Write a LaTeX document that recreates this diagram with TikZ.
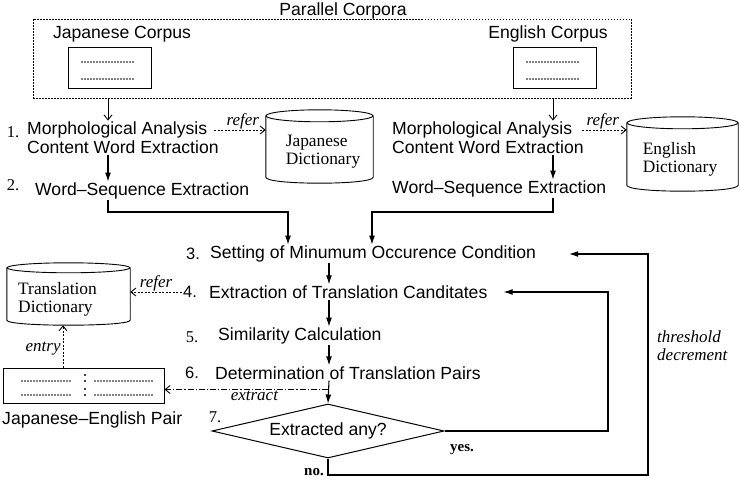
\documentclass[tikz,border=0pt]{standalone}
\usepackage{fontspec}
\setmainfont{Liberation Serif}
\newfontfamily\hv{Liberation Sans}
\usetikzlibrary{arrows.meta,shapes.geometric}
\tikzset{
  sans/.style={font=\hv\fontsize{17.6}{18}\selectfont, inner sep=1pt, align=left},
  serif/.style={font=\fontsize{17.4}{18}\selectfont, inner sep=1pt, align=left},
  lab/.style={font=\itshape\fontsize{17}{18}\selectfont, inner sep=1pt, align=left},
  num/.style={font=\fontsize{16.5}{17}\selectfont, inner sep=1pt},
  snum/.style={font=\hv\fontsize{16.5}{17}\selectfont, inner sep=1pt},
  ans/.style={font=\bfseries\fontsize{15}{16}\selectfont, inner sep=1pt},
  arr/.style={line width=1.1pt, -{Latex[length=9pt,width=6pt]}},
  oarr/.style={line width=0.9pt, -{Straight Barb[length=5pt,width=8pt]}},
  dsh/.style={oarr, dash pattern=on 2pt off 1.5pt},
  ddot/.style={oarr, dash pattern=on 6pt off 2pt on 1.2pt off 2pt},
  dotrow/.style={line width=1.7pt, line cap=round, dash pattern=on 0pt off 3pt},
}
\newcommand\drawcyl[3]{%
  \draw[line width=0.9pt] (#1.north) ++(0,#3) ellipse [x radius=#2, y radius=#3];
  \draw[line width=0.9pt] ([yshift=-#3pt]#1.north west) -- ([yshift=#3pt]#1.south west)
    .. controls +(0,{1.333*#3}) and +(0,{1.333*#3}) .. ([yshift=#3pt]#1.south east)
    -- ([yshift=-#3pt]#1.north east);
}
\begin{document}
\begin{tikzpicture}[x=1pt,y=-1pt]
\useasboundingbox (0,0) rectangle (740,484);

% guide coordinates
\coordinate (jx) at (108,0);
\coordinate (ex) at (553,0);
\coordinate (mx) at (329,0);
\coordinate (ax1) at (288,0);
\coordinate (ax2) at (372,0);
\coordinate (ax3) at (63,0);
\coordinate (hy) at (0,212);
\coordinate (ny) at (0,475);
\coordinate (lx1) at (608,0);
\coordinate (lx2) at (648,0);

% parallel corpora
\node[sans] (pc) at (343,11) {Parallel Corpora};
\node[draw, line width=0.8pt, dash pattern=on 1.5pt off 1.5pt, minimum width=598pt, minimum height=79pt, inner sep=0pt] (par) at (332,58.5) {};
\node[sans] (jc) at (122,34) {Japanese Corpus};
\node[sans] (ec) at (548,34) {English Corpus};
\node[draw, line width=0.9pt, minimum width=83pt, minimum height=41pt, inner sep=0pt] (jb) at (109.5,67.5) {};
\node[draw, line width=0.9pt, minimum width=83pt, minimum height=41pt, inner sep=0pt] (eb) at (554.5,67.5) {};
\draw[dotrow] (82,62) -- (133,62);
\draw[dotrow] (82,79) -- (133,79);
\draw[dotrow] (527,62) -- (579,62);
\draw[dotrow] (527,79) -- (579,79);

% step 1 and 2, left
\node[num] (n1) at (13,132) {1.};
\node[sans, anchor=west] (m1a) at (26,130) {Morphological Analysis};
\node[sans, anchor=west] (m1b) at (26,147) {Content Word Extraction};
\node[num] (n2) at (13,185) {2.};
\node[sans, anchor=west] (ws1) at (34,191) {Word–Sequence Extraction};

% step 1 and 2, right
\node[sans, anchor=west] (m2a) at (391,130) {Morphological Analysis};
\node[sans, anchor=west] (m2b) at (391,147) {Content Word Extraction};
\node[sans, anchor=west] (ws2) at (391,189) {Word–Sequence Extraction};

% dictionaries
\node[inner sep=0pt, minimum width=107pt, minimum height=73pt] (jd) at (319.5,146.5) {};
\drawcyl{jd}{53.5}{6}
\node[serif] (jdt) at (323,152) {Japanese\\Dictionary};
\node[inner sep=0pt, minimum width=111pt, minimum height=74pt] (ed) at (682.5,154) {};
\drawcyl{ed}{55.5}{6}
\node[serif] (edt) at (680,159) {English\\Dictionary};
\node[inner sep=0pt, minimum width=123pt, minimum height=62pt] (td) at (68.5,294) {};
\drawcyl{td}{61.5}{5}
\node[serif, anchor=west] (tdt) at (17,299) {Translation\\Dictionary};

% arrows top
\draw[oarr] (par.south -| jx) -- (m1a.north -| jx);
\draw[oarr] (par.south -| ex) -- (m2a.north -| ex);
\draw[arr] (m1b.south -| jx) -- (ws1.north -| jx);
\draw[arr] (m2b.south -| ex) -- (ws2.north -| ex);
\draw[dsh, shorten <=6pt] (m1a.east) -- node[lab, above, inner sep=0pt, pos=0.6] {refer} (m1a.east -| jd.west);
\draw[dsh, shorten <=9pt] (m2a.east) -- node[lab, above, inner sep=0pt, pos=0.55] {refer} (m2a.east -| ed.west);

% steps
\node[snum] (n3) at (193,254) {3.};
\node[sans, anchor=west] (s3) at (209,254) {Setting of Minumum Occurence Condition};
\node[snum] (n4) at (190,292) {4.};
\node[sans, anchor=west] (s4) at (208,292) {Extraction of Translation Canditates};
\node[num] (n5) at (192,337) {5.};
\node[sans, anchor=west] (s5) at (217,336) {Similarity Calculation};
\node[snum] (n6) at (192,373) {6.};
\node[sans, anchor=west] (s6) at (214,373) {Determination of Translation Pairs};
\node[draw, diamond, aspect=4.3, line width=1pt, minimum width=232pt, minimum height=54pt, inner sep=0pt, font=\hv\fontsize{17.6}{18}\selectfont] (d) at (328,431) {Extracted any?};
\node[num] (n7) at (215,417) {7.};

\draw[arr] (ws1.south -| jx) -- (jx |- hy) -| (s3.north -| ax1);
\draw[arr] (ws2.south -| ex) -- (ex |- hy) -| (s3.north -| ax2);
\draw[arr] (s3.south -| mx) -- (s4.north -| mx);
\draw[arr] (s4.south -| mx) -- (s5.north -| mx);
\draw[arr] (s5.south -| mx) -- (s6.north -| mx);
\draw[arr] (s6.south -| mx) -- (d.north);

% loops
\draw[arr] (d.east) -| (lx1 |- s4.east) -- ([xshift=15pt]s4.east);
\draw[arr] (d.south) -- (d.south |- ny) -| (lx2 |- s3.east) -- ([xshift=32pt]s3.east);
\node[ans] (yes) at (462,450) {yes.};
\node[ans] (no) at (314,472) {no.};
\node[lab, anchor=west] (thr) at (656,346) {threshold\\decrement};

% translation pairs
\node[draw, line width=0.9pt, minimum width=161pt, minimum height=35pt, inner sep=0pt] (je) at (83.5,385.5) {};
\draw[dotrow] (22,381) -- (72,381);
\draw[dotrow] (95,381) -- (153,381);
\draw[dotrow] (22,395) -- (72,395);
\draw[dotrow] (95,395) -- (153,395);
\fill (85,375) circle (1.2) (85,381) circle (1.2) (85,389) circle (1.2) (85,395) circle (1.2);
\node[sans, anchor=west] (jel) at (1,420) {Japanese–English Pair};

\draw[dsh] (n4.west) -- node[lab, above, inner sep=0pt] {refer} (n4.west -| td.east);
\draw[dsh] (je.north -| ax3) -- node[lab, left, inner sep=2pt, pos=0.45] {entry} (td.south -| ax3);
\coordinate (ex0) at ([yshift=14pt]d.north);
\draw[ddot] (ex0) -- node[lab, below, inner sep=1pt, pos=0.45] {extract} (ex0 -| je.east);
\end{tikzpicture}
\end{document}
